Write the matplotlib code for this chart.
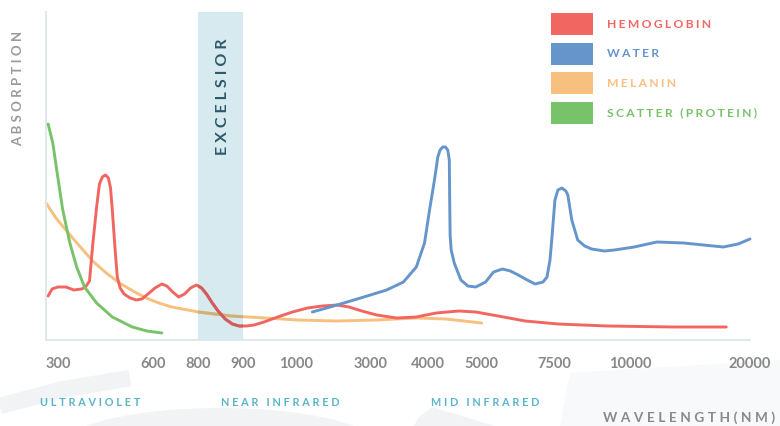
import matplotlib.pyplot as plt
import numpy as np
from matplotlib.patches import Rectangle, Ellipse, Polygon
from matplotlib.lines import Line2D

plt.rcParams['font.family'] = ['Lato', 'DejaVu Sans']
plt.rcParams['font.weight'] = 'bold'

# uneven wavelength axis (nm) and where each tick sits along it
tick_wl = [300, 600, 800, 900, 1000, 3000, 4000, 5000, 7500, 10000, 20000]
tick_pos = [0, 108, 154, 199, 252, 328, 386, 440, 513, 590, 711]

# absorption curves (arbitrary units)
hemo_wl = [306, 317, 333, 356, 378, 400, 411, 422, 431, 442, 450, 458, 467, 475, 481,
           486, 494, 500, 508, 519, 536, 553, 569, 586, 609, 639, 661, 687, 713, 739,
           765, 791, 807, 818, 831, 844, 860, 876, 891, 906, 921, 940, 966, 994, 1316,
           1711, 2105, 2421, 2763, 3103, 3448, 3793, 4148, 4574, 4889, 5377, 6507, 7630,
           9253, 13636, 18017]
hemo_abs = [44, 51, 53, 53, 50, 51, 53, 59, 95, 133, 156, 163, 165, 162, 152,
            130, 90, 63, 52, 46, 42, 40, 41, 46, 52, 56, 54, 48, 43, 46,
            52, 55, 52, 46, 37, 29, 21, 16, 14, 14, 15, 18, 23, 28, 32,
            34, 35, 33, 29, 25, 22, 23, 27, 29, 28, 25, 19, 16,
            14, 13, 13]

water_wl = [1447, 2105, 2816, 3276, 3569, 3793, 3936, 4025, 4117, 4180, 4222, 4272, 4324,
            4365, 4395, 4402, 4410, 4430, 4487, 4611, 4741, 4889, 5137, 5411, 5719, 5993,
            6267, 6575, 6849, 7123, 7260, 7363, 7432, 7532, 7630, 7760, 7890, 7955, 8085,
            8279, 8506, 8734, 9156, 9481, 10331, 12231, 14463, 17769, 19008, 20000]
water_abs = [28, 35, 43, 50, 58, 73, 97, 130, 160, 183, 190, 193, 193,
             190, 180, 140, 105, 90, 77, 60, 54, 53, 58, 68, 71, 69,
             65, 60, 56, 58, 63, 80, 103, 140, 150, 152, 149, 145, 120,
             100, 94, 91, 89, 90, 93, 98, 97, 93, 96, 101]

melanin_wl = [300, 328, 358, 394, 431, 469, 506, 544, 581, 626, 683, 800, 873, 942, 1053,
              2105, 3103, 3793, 4333, 5000]
melanin_abs = [137, 122, 109, 94, 79, 67, 57, 49, 42, 37, 33, 28, 24, 22, 20,
               19, 20, 22, 21, 17]

scatter_wl = [306, 319, 333, 347, 367, 386, 408, 442, 486, 542, 583, 639]
scatter_abs = [216, 197, 163, 130, 97, 73, 53, 37, 23, 13, 9, 7]

series_names = ['HEMOGLOBIN', 'WATER', 'MELANIN', 'SCATTER (PROTEIN)']
series_colors = ['#f26662', '#6695cc', '#f8c07e', '#78c36a']
regions = ['ULTRAVIOLET', 'NEAR INFRARED', 'MID INFRARED']
band = (800, 900)
band_color = '#d7eaef'

THIN = '\u2009'
HAIR = '\u200a'


def track(s, sep=THIN + HAIR):
    # fake letter spacing
    return sep.join(s)


def fwd(w):
    return np.interp(w, tick_wl, tick_pos)


def inv(p):
    return np.interp(p, tick_pos, tick_wl)


def px(x, y):
    # pixel position on the 780x426 canvas -> inches
    return (x / 100, (426 - y) / 100)


fig = plt.figure(figsize=(7.8, 4.26), dpi=100)
fig.patch.set_facecolor('white')

# faint background swooshes
deco = '#f2f3f5'
fig.add_artist(Ellipse(px(220, 448), 3.2, 0.8, transform=fig.dpi_scale_trans,
                       color=deco, zorder=-2, lw=0))
fig.add_artist(Line2D([0, 0.6, 1.3], [(426 - 406) / 100, (426 - 390) / 100, (426 - 378) / 100],
                      transform=fig.dpi_scale_trans, color=deco, lw=12,
                      solid_capstyle='butt', zorder=-2))
fig.add_artist(Polygon([px(414, 426), px(418, 418), px(432, 407), px(495, 426)],
                       closed=True, transform=fig.dpi_scale_trans, color=deco, lw=0, zorder=-2))
fig.add_artist(Polygon([px(560, 426), px(570, 373), px(780, 360), px(780, 426)],
                       closed=True, transform=fig.dpi_scale_trans, color='#f8f9fa', lw=0, zorder=-3))

ax = fig.add_axes([46 / 780, 86 / 426, 704 / 780, 328 / 426])
ax.patch.set_alpha(0)
ax.set_xscale('function', functions=(fwd, inv))
ax.set_xlim(tick_wl[0], inv(704))
ax.set_ylim(0, 328)

span = ax.axvspan(*band, color=band_color, lw=0, zorder=0)

curves = [(hemo_wl, hemo_abs), (water_wl, water_abs), (melanin_wl, melanin_abs),
          (scatter_wl, scatter_abs)]
zorders = [3, 4, 2, 3]
bc = np.array([int(band_color[i:i + 2], 16) for i in (1, 3, 5)]) / 255
for (x, y), c, z in zip(curves, series_colors, zorders):
    ax.plot(x, y, color=c, lw=2.1, zorder=z, solid_joinstyle='round',
            solid_capstyle='round', clip_on=False)
    # darker copy inside the band (band looks multiplied over the lines)
    cc = np.array([int(c[i:i + 2], 16) for i in (1, 3, 5)]) / 255
    ln, = ax.plot(x, y, color=tuple(cc * bc), lw=2.1, zorder=z + 0.5,
                  solid_joinstyle='round', solid_capstyle='round')
    ln.set_clip_path(span)

ax.text(np.mean(band) + 5, 243, track('EXCELSIOR', THIN * 2), rotation=90, ha='center',
        va='center', color='#2d5a69', fontsize=11.5, fontweight='bold', zorder=6)

for s in ['top', 'right']:
    ax.spines[s].set_visible(False)
for s in ['left', 'bottom']:
    ax.spines[s].set_color('#dde6eb')
    ax.spines[s].set_linewidth(1.3)
ax.set_yticks([])
ax.set_xticks(tick_wl)
ax.set_xticklabels([str(t) for t in tick_wl], color='#888888', fontsize=10.5, fontweight='bold')
ax.xaxis.set_minor_locator(plt.NullLocator())
ax.tick_params(axis='x', length=0, pad=12)
ax.get_xticklabels()[0].set_ha('left')

# legend
for i, (name, c) in enumerate(zip(series_names, series_colors)):
    top = 13 + i * 29.7
    fig.add_artist(Rectangle(px(551, top + 22), 0.42, 0.22, transform=fig.dpi_scale_trans,
                             color=c, lw=0))
    fig.text(607 / 780, (426 - top - 11) / 426, track(name), color=c, fontsize=8.7,
             fontweight='bold', ha='left', va='center')

fig.text(18 / 780, (426 - 88) / 426, track('ABSORPTION', THIN * 2), rotation=90, ha='center',
         va='center', color='#9a9a9a', fontsize=9.5, fontweight='bold')
for name, xc in zip(regions, [90, 280, 485]):
    fig.text(xc / 780, (426 - 403) / 426, track(name, THIN * 2), ha='center', va='center',
             color='#5bb4c8', fontsize=7.8, fontweight='bold')
fig.text(775 / 780, (426 - 418) / 426, track('WAVELENGTH(NM)', THIN * 2), ha='right',
         va='center', color='#8a8a8a', fontsize=9.8, fontweight='bold')

fig.savefig('out.png', dpi=100)
